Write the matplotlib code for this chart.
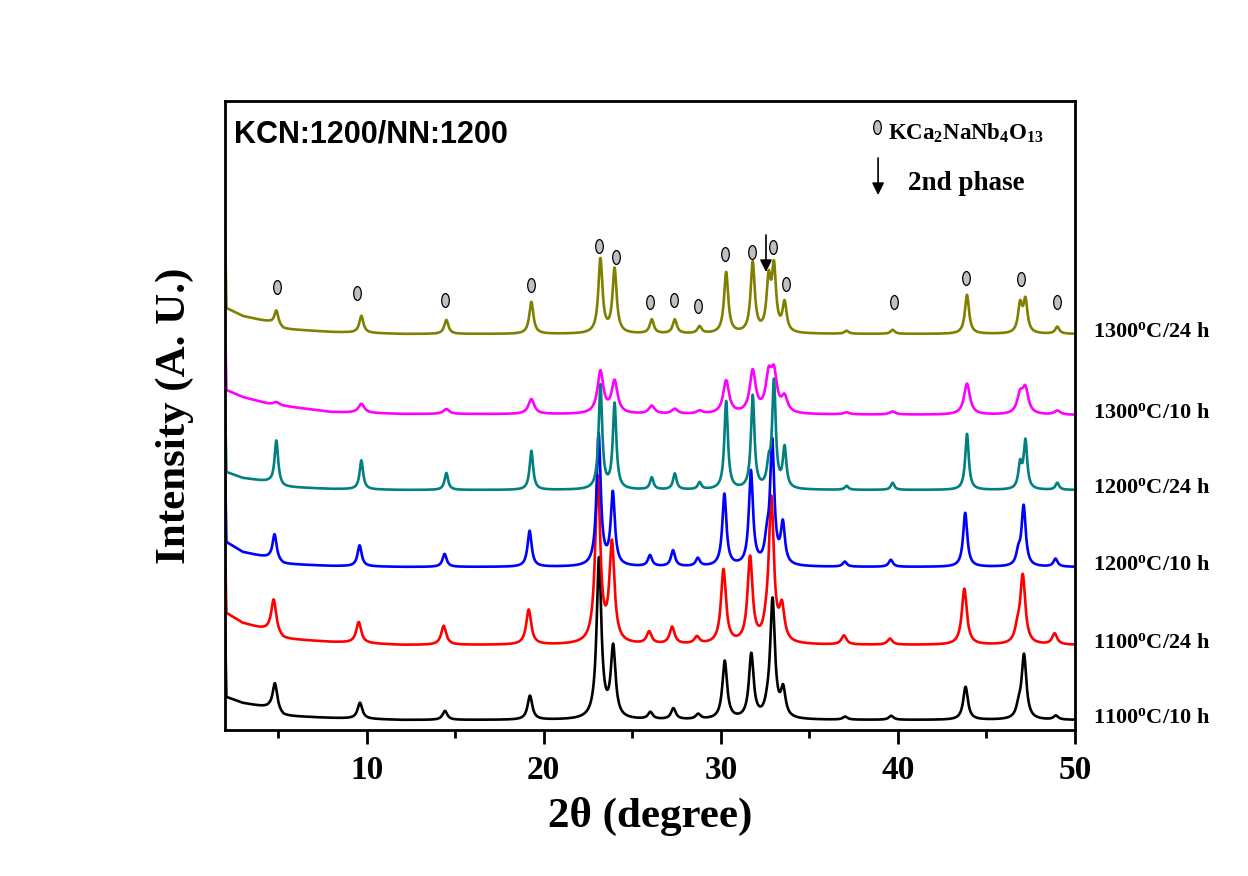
import numpy as np
import matplotlib
matplotlib.use('Agg')
import matplotlib.pyplot as plt
from matplotlib.path import Path
from matplotlib.transforms import Affine2D, blended_transform_factory

plt.rcParams['font.family'] = ['Liberation Serif', 'DejaVu Serif']
plt.rcParams['mathtext.fontset'] = 'custom'
plt.rcParams['mathtext.rm'] = 'Liberation Serif:bold'
plt.rcParams['mathtext.bf'] = 'Liberation Serif:bold'
plt.rcParams['mathtext.it'] = 'Liberation Serif:bold:italic'

# ---------------- data ----------------
peak_pos = [4.9, 9.7, 14.5, 19.3, 23.2, 24.0, 26.1, 27.4, 28.8, 30.3,
            31.8, 32.7, 33.0, 33.6, 37.1, 39.7, 43.9, 46.9, 47.2, 49.0]

sample_labels = ['1100$^\\mathrm{o}$C/10 h', '1100$^\\mathrm{o}$C/24 h',
                 '1200$^\\mathrm{o}$C/10 h', '1200$^\\mathrm{o}$C/24 h',
                 '1300$^\\mathrm{o}$C/10 h', '1300$^\\mathrm{o}$C/24 h']
colors = ['#000000', '#ff0000', '#0000ff', '#008080', '#ff00ff', '#808000']

# vertical offset (baseline level) of each pattern
baselines = [10, 85, 163, 240, 315, 396]
# small peak shift of each pattern (degrees)
shifts = [-0.08, -0.15, -0.1, 0.0, 0.0, 0.0]
# peak half widths (degrees)
peak_hw = [0.16, 0.17, 0.14, 0.12, 0.2, 0.14]

# peak intensities above baseline for each pattern (same order as peak_pos)
h_1100_10 = [28, 16, 9, 24, 160, 70, 7, 11, 5, 58, 64, 6, 118, 27, 3, 4, 33, 10, 64, 4]
h_1100_24 = [34, 21, 19, 35, 165, 98, 12, 17, 7, 74, 85, 8, 143, 33, 9, 6, 56, 12, 68, 11]
h_1200_10 = [26, 21, 13, 36, 132, 72, 11, 16, 8, 72, 94, 20, 122, 40, 5, 7, 54, 12, 60, 8]
h_1200_24 = [44, 29, 17, 39, 104, 85, 12, 16, 7, 88, 93, 20, 106, 40, 4, 7, 56, 24, 48, 7]
h_1300_10 = [3, 9, 5, 15, 42, 32, 8, 5, 3, 33, 42, 34, 36, 15, 2, 3, 31, 18, 24, 4]
h_1300_24 = [15, 17, 14, 32, 74, 64, 14, 14, 7, 61, 70, 50, 62, 29, 3, 4, 39, 28, 32, 7]
heights = [h_1100_10, h_1100_24, h_1200_10, h_1200_24, h_1300_10, h_1300_24]

# low-angle background above baseline
bg_x = [2.0, 2.08, 3.0, 4.5, 5.3, 8.0, 12.0, 50.0]
bg_1100_10 = [100, 23, 17, 12, 4, 2, 0, 0]
bg_1100_24 = [102, 32, 22, 14, 6, 3, 0, 0]
bg_1200_10 = [107, 25, 15, 9, 3, 1, 0, 0]
bg_1200_24 = [90, 18, 12, 8, 3, 1, 0, 0]
bg_1300_10 = [98, 25, 18, 11, 9, 3, 1, 0]
bg_1300_24 = [109, 26, 18, 12, 5, 2, 0, 0]
backgrounds = [bg_1100_10, bg_1100_24, bg_1200_10, bg_1200_24, bg_1300_10, bg_1300_24]

# KCa2NaNb4O13 markers (2theta, height)
marker_pos = [4.92, 9.47, 14.41, 19.26, 23.12, 24.06, 26.00, 27.37, 28.69, 30.24,
              31.78, 32.96, 33.66, 39.78, 43.84, 46.95, 48.97]
marker_y = [443, 437, 430, 445, 484, 473, 428, 430, 424, 476,
            478, 483, 446, 428, 452, 451, 428]
# 2nd phase arrow (2theta, tail, head)
second_phase = (32.55, 495, 458)

# ---------------- figure ----------------
fig = plt.figure(figsize=(12.48, 8.76), dpi=100)
ax = fig.add_axes([225 / 1248, 146 / 876, 850 / 1248, 629 / 876])

x = np.arange(2.0, 50.0001, 0.01)
for base, sh, hw, hs, bg, col in zip(baselines, shifts, peak_hw, heights, backgrounds, colors):
    y = base + np.interp(x, bg_x, bg)
    for p, h in zip(peak_pos, hs):
        y = y + h / (1.0 + ((x - p - sh) / hw) ** 2)
    ax.plot(x, y, color=col, lw=1.9)

trans = blended_transform_factory(ax.transAxes, ax.transData)
for base, lab in zip(baselines, sample_labels):
    ax.text(1.021, base + 2, lab, transform=trans, fontsize=16, fontweight='bold',
            ha='left', va='center', clip_on=False)

ell = Affine2D().scale(0.55, 1.0).transform_path(Path.unit_circle())
ax.plot(marker_pos, marker_y, ls='none', marker=ell, ms=10,
        mfc='#c0c0c0', mec='black', mew=0.9)

ax.annotate('', xy=(second_phase[0], second_phase[2]), xytext=(second_phase[0], second_phase[1]),
            arrowprops=dict(arrowstyle='-|>', color='black', lw=1.2,
                            mutation_scale=18, shrinkA=0, shrinkB=0))

# legend
ax.plot([38.84], [603], ls='none', marker=ell, ms=10, mfc='#c0c0c0', mec='black', mew=0.9)
ax.text(39.45, 597, 'KCa$_\\mathrm{2}$NaNb$_\\mathrm{4}$O$_\\mathrm{13}$', fontsize=16.5,
        fontweight='bold', ha='left', va='center')
ax.annotate('', xy=(38.88, 535), xytext=(38.88, 572),
            arrowprops=dict(arrowstyle='-|>', color='black', lw=1.2,
                            mutation_scale=18, shrinkA=0, shrinkB=0))
ax.text(40.55, 547, '2nd phase', fontsize=19.5, fontweight='bold', ha='left', va='center')

ax.text(0.011, 0.9475, 'KCN:1200/NN:1200', transform=ax.transAxes, fontsize=22,
        fontweight='bold', family=['Liberation Sans', 'DejaVu Sans'], ha='left', va='center')

ax.set_xlim(2, 50)
ax.set_ylim(0, 629)
ax.set_xticks([10, 20, 30, 40, 50])
ax.set_xticks([5, 15, 25, 35, 45], minor=True)
ax.set_yticks([])
ax.tick_params(axis='x', which='major', direction='out', length=10, width=2, pad=8,
               labelsize=24)
ax.tick_params(axis='x', which='minor', direction='out', length=6, width=2)
for lab in ax.get_xticklabels():
    lab.set_fontweight('bold')
for s in ax.spines.values():
    s.set_linewidth(2)

ax.set_xlabel('2θ (degree)', fontsize=31, fontweight='bold', labelpad=8)
ax.set_ylabel('Intensity (A. U.)', fontsize=31, fontweight='bold', labelpad=22)

fig.savefig('out.png', dpi=100)
